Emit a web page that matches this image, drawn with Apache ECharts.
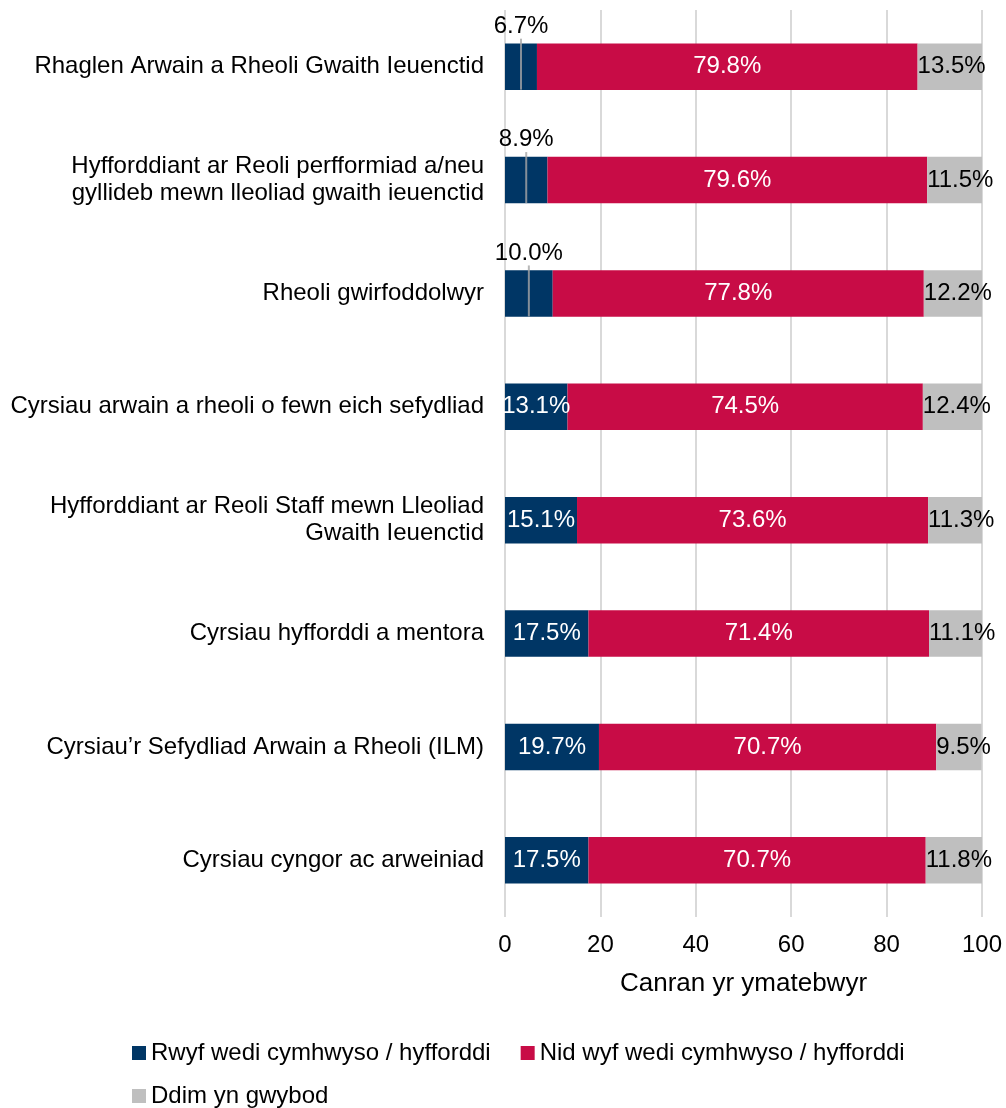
<!DOCTYPE html>
<html>
<head>
<meta charset="utf-8">
<script src="https://cdn.jsdelivr.net/npm/echarts@6/dist/echarts.min.js"></script>
<style>
html,body{margin:0;padding:0;background:#fff;}
#chart{width:1006px;height:1108px;}
</style>
</head>
<body>
<div id="chart"></div>
<script>
const categories = [
  "Rhaglen Arwain a Rheoli Gwaith Ieuenctid",
  "Hyfforddiant ar Reoli perfformiad a/neu\ngyllideb mewn lleoliad gwaith ieuenctid",
  "Rheoli gwirfoddolwyr",
  "Cyrsiau arwain a rheoli o fewn eich sefydliad",
  "Hyfforddiant ar Reoli Staff mewn Lleoliad\nGwaith Ieuenctid",
  "Cyrsiau hyfforddi a mentora",
  "Cyrsiau’r Sefydliad Arwain a Rheoli (ILM)",
  "Cyrsiau cyngor ac arweiniad"
];
const seriesNames = [
  "Rwyf wedi cymhwyso / hyfforddi",
  "Nid wyf wedi cymhwyso / hyfforddi",
  "Ddim yn gwybod"
];
const qualified = [6.7, 8.9, 10.0, 13.1, 15.1, 17.5, 19.7, 17.5];
const notQualified = [79.8, 79.6, 77.8, 74.5, 73.6, 71.4, 70.7, 70.7];
const dontKnow = [13.5, 11.5, 12.2, 12.4, 11.3, 11.1, 9.5, 11.8];
const labelOutside = [true, true, true, false, false, false, false, false];
const xTicks = [0, 20, 40, 60, 80, 100];

const FONT = "'Liberation Sans', Arial, sans-serif";
const FS = 24;
const colors = ['#003665', '#C80C46', '#BFBFBF'];
const fmt = p => p.value.toFixed(1) + '%';

const qualifiedData = qualified.map((v, i) => labelOutside[i]
  ? { value: v, label: { position: 'top', color: '#000', distance: 5 } }
  : v);

const leaderData = [];
qualified.forEach((v, i) => { if (labelOutside[i]) leaderData.push([v / 2, i]); });

const chart = echarts.init(document.getElementById('chart'), null, { renderer: 'canvas' });
chart.setOption({
  animation: false,
  textStyle: { fontFamily: FONT },
  grid: { left: 505, right: 24, top: 10, bottom: 191, containLabel: false },
  xAxis: {
    type: 'value', min: xTicks[0], max: xTicks[xTicks.length - 1], interval: 20,
    name: 'Canran yr ymatebwyr', nameLocation: 'middle', nameGap: 54,
    nameTextStyle: { fontSize: 26, color: '#000', fontFamily: FONT },
    axisLine: { show: false }, axisTick: { show: false },
    axisLabel: { fontSize: FS, color: '#000', margin: 16, fontFamily: FONT },
    splitLine: { show: true, lineStyle: { color: '#D9D9D9', width: 2 } }
  },
  yAxis: {
    type: 'category', data: categories, inverse: true,
    axisLine: { show: false }, axisTick: { show: false },
    axisLabel: { fontSize: FS, color: '#000', margin: 21, lineHeight: 27, align: 'right', fontFamily: FONT },
    splitLine: { show: false }
  },
  legend: [
    {
      data: [seriesNames[0], seriesNames[1]], left: 132, top: 1041, padding: 0,
      itemWidth: 14, itemHeight: 14, itemGap: 30, icon: 'rect',
      textStyle: { fontSize: FS, color: '#000', fontFamily: FONT }
    },
    {
      data: [seriesNames[2]], left: 132, top: 1084, padding: 0,
      itemWidth: 14, itemHeight: 14, icon: 'rect',
      textStyle: { fontSize: FS, color: '#000', fontFamily: FONT }
    }
  ],
  series: [
    {
      name: seriesNames[0], type: 'bar', stack: 'total', barWidth: '41%',
      itemStyle: { color: colors[0] },
      label: { show: true, position: 'inside', color: '#fff', fontSize: FS, fontFamily: FONT, formatter: fmt },
      data: qualifiedData
    },
    {
      name: seriesNames[1], type: 'bar', stack: 'total', barWidth: '41%',
      itemStyle: { color: colors[1] },
      label: { show: true, position: 'inside', color: '#fff', fontSize: FS, fontFamily: FONT, formatter: fmt },
      data: notQualified
    },
    {
      name: seriesNames[2], type: 'bar', stack: 'total', barWidth: '41%',
      itemStyle: { color: colors[2] },
      label: { show: true, position: 'insideLeft', distance: 0, color: '#000', fontSize: FS, fontFamily: FONT, formatter: fmt },
      data: dontKnow
    },
    {
      name: 'leader', type: 'scatter', silent: true, z: 5,
      symbol: 'rect', symbolSize: [2, 51], symbolOffset: [0, -2.5],
      itemStyle: { color: '#A6A6A6' },
      data: leaderData
    }
  ]
});
</script>
</body>
</html>
